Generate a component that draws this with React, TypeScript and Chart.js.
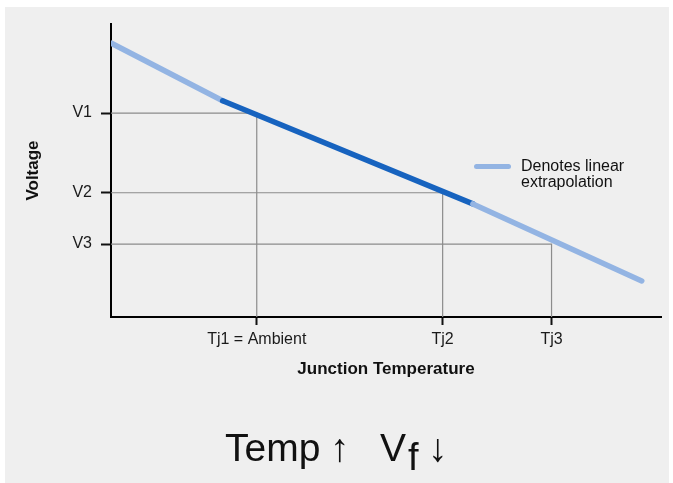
import React, { useEffect, useRef } from "react";
import { Chart, registerables } from "chart.js";

Chart.register(...registerables);

// Curve of forward voltage vs junction temperature (arbitrary units)
const lineX = [0, 20.3, 65.8, 96.5];
const lineY = [93.5, 73.8, 38.6, 12.3];
// Guide levels
const tempTicks = [26.5, 60.3, 80.1];
const tempLabels = ["Tj1 = Ambient", "Tj2", "Tj3"];
const voltTicks = [69.6, 42.4, 24.9];
const voltLabels = ["V1", "V2", "V3"];

const LIGHT = "#93b4e3";
const DARK = "#1763bf";
const GUIDE = "#8c8c8c";
const FONT = '"Liberation Sans", Arial, sans-serif';

export default function App() {
  const ref = useRef<HTMLCanvasElement | null>(null);

  useEffect(() => {
    if (!ref.current) return;
    const guides = tempTicks.map((t, i) => ({
      data: [
        { x: 0, y: voltTicks[i] },
        { x: t, y: voltTicks[i] },
        { x: t, y: 0 },
      ],
      borderColor: GUIDE,
      borderWidth: 1.2,
      pointRadius: 0,
      showLine: true,
      order: 2,
    }));
    const chart = new Chart(ref.current, {
      type: "line",
      data: {
        datasets: [
          {
            data: lineX.map((x, i) => ({ x, y: lineY[i] })),
            borderColor: LIGHT,
            borderWidth: 5.5,
            borderCapStyle: "round",
            borderJoinStyle: "round",
            pointRadius: 0,
            showLine: true,
            order: 1,
            segment: {
              borderColor: (ctx: any) => (ctx.p0DataIndex === 1 ? DARK : LIGHT),
            },
          } as any,
          ...guides,
        ],
      },
      options: {
        animation: false,
        responsive: false,
        layout: { padding: { left: 0, top: 24, right: 12, bottom: 0 } },
        plugins: {
          legend: { display: false },
          tooltip: { enabled: false },
        },
        scales: {
          x: {
            type: "linear",
            min: 0,
            max: 100,
            afterBuildTicks: (scale: any) => {
              scale.ticks = tempTicks.map((v) => ({ value: v }));
            },
            afterFit: (scale: any) => {
              scale.height = 166;
            },
            ticks: {
              autoSkip: false,
              maxRotation: 0,
              padding: 5,
              color: "#1a1a1a",
              font: { family: FONT, size: 16 },
              callback: (_v: any, i: number) => tempLabels[i],
            },
            grid: {
              drawOnChartArea: false,
              drawTicks: true,
              tickLength: 8,
              tickColor: "#111",
              tickWidth: 2,
            },
            border: { display: true, color: "#000", width: 2 },
            title: {
              display: true,
              text: "Junction Temperature",
              color: "#111",
              font: { family: FONT, size: 17, weight: "bold" },
              padding: { top: 0, bottom: 103 },
            },
          },
          y: {
            type: "linear",
            min: 0,
            max: 100,
            afterBuildTicks: (scale: any) => {
              scale.ticks = voltTicks.map((v) => ({ value: v }));
            },
            afterFit: (scale: any) => {
              scale.width = 111;
            },
            ticks: {
              autoSkip: false,
              padding: 9,
              color: "#1a1a1a",
              font: { family: FONT, size: 16 },
              callback: (_v: any, i: number) => voltLabels[i],
            },
            grid: {
              drawOnChartArea: false,
              drawTicks: true,
              tickLength: 10,
              tickColor: "#111",
              tickWidth: 2,
            },
            border: { display: true, color: "#000", width: 2 },
            title: {
              display: true,
              text: "Voltage",
              color: "#111",
              font: { family: FONT, size: 17, weight: "bold" },
              padding: { top: 23, bottom: 0 },
            },
          },
        },
      } as any,
    });
    return () => chart.destroy();
  }, []);

  return (
    <div
      style={{
        position: "absolute",
        left: 0,
        top: 0,
        width: 673,
        height: 483,
        background: "#ffffff",
        overflow: "hidden",
      }}
    >
      <div
        style={{
          position: "absolute",
          left: 5,
          top: 7,
          width: 664,
          height: 476,
          background: "#efefef",
        }}
      />
      <canvas
        ref={ref}
        width={673}
        height={483}
        style={{ position: "absolute", left: 0, top: 0 }}
      />
      {/* legend */}
      <div
        style={{
          position: "absolute",
          left: 474,
          top: 164,
          width: 37,
          height: 5,
          borderRadius: 3,
          background: LIGHT,
        }}
      />
      <div
        style={{
          position: "absolute",
          left: 521,
          top: 158,
          fontFamily: FONT,
          fontSize: 16,
          lineHeight: "16px",
          color: "#111",
          whiteSpace: "nowrap",
        }}
      >
        Denotes linear
        <br />
        extrapolation
      </div>
      {/* caption */}
      <div style={{ fontFamily: FONT, color: "#111", fontSize: 39, lineHeight: "39px" }}>
        <span style={{ position: "absolute", left: 225, top: 428 }}>Temp</span>
        <span style={{ position: "absolute", left: 330, top: 428 }}>↑</span>
        <span style={{ position: "absolute", left: 380, top: 428 }}>V</span>
        <span style={{ position: "absolute", left: 408, top: 438, fontSize: 38, lineHeight: "38px" }}>f</span>
        <span style={{ position: "absolute", left: 428, top: 428 }}>↓</span>
      </div>
    </div>
  );
}
